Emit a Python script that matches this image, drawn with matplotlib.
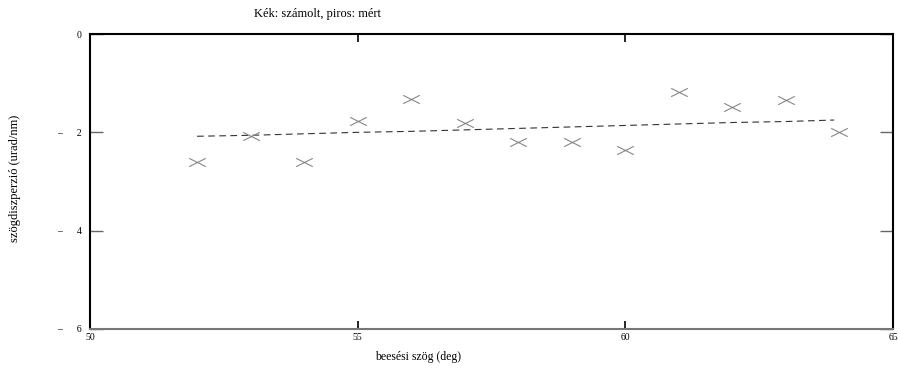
import matplotlib
matplotlib.use("Agg")
import matplotlib.pyplot as plt
from matplotlib.path import Path

plt.rcParams['font.family'] = ['Liberation Serif', 'DejaVu Serif']

# measured (markers)
x_meas = [52, 53, 54, 55, 56, 57, 58, 59, 60, 61, 62, 63, 64]
y_meas = [-2.61, -2.07, -2.61, -1.76, -1.32, -1.80, -2.20, -2.20, -2.36, -1.18, -1.49, -1.34, -2.00]

# computed (dashed line)
x_calc = [52, 53, 54, 55, 56, 57, 58, 59, 60, 61, 62, 63, 63.9]
y_calc = [-2.08, -2.06, -2.03, -2.00, -1.98, -1.95, -1.92, -1.89, -1.86, -1.83, -1.80, -1.78, -1.75]

xticks = [50, 55, 60, 65]
yticks = [0, -2, -4, -6]
ylabels = ['0', '\u2013      2', '\u2013      4', '\u2013      6']

# flat x marker
xmark = Path([(-1, -0.5), (1, 0.5), (-1, 0.5), (1, -0.5)],
             [Path.MOVETO, Path.LINETO, Path.MOVETO, Path.LINETO])

fig = plt.figure(figsize=(8.99, 3.73), dpi=100)
ax = fig.add_axes([90/899, 1 - 329/373, (893-90)/899, (329-34)/373])

ax.plot(x_calc, y_calc, color='#333333', lw=0.8, dashes=(6, 4))
ax.plot(x_meas, y_meas, ls='none', marker=xmark, ms=12, mew=0.8,
        mec='#888888', mfc='none')

ax.set_xlim(50, 65)
ax.set_ylim(-6, 0)
ax.set_xticks(xticks)
ax.set_xticklabels([str(t) for t in xticks], fontsize=7)
ax.set_yticks(yticks)
ax.set_yticklabels(ylabels, fontsize=7)
ax.tick_params(axis='y', direction='in', length=9.5, width=1, color='#666666',
               right=True, pad=6)
ax.tick_params(axis='x', direction='in', length=5.5, width=1.2, color='black',
               top=True, pad=3)
for s in ax.spines.values():
    s.set_linewidth(1.5)
ax.spines['bottom'].set_color('#777777')

fig.text(318/899, 1 - 14/373, 'Kék: számolt, piros: mért', ha='center',
         va='center', fontsize=9)
fig.text(418/899, 1 - 357/373, 'beesési szög (deg)', ha='center',
         va='center', fontsize=8.5)
fig.text(15/899, 1 - 178/373, 'szögdiszperzió (urad/nm)', ha='center',
         va='center', rotation=90, fontsize=9)

fig.savefig('out.png', dpi=100)
